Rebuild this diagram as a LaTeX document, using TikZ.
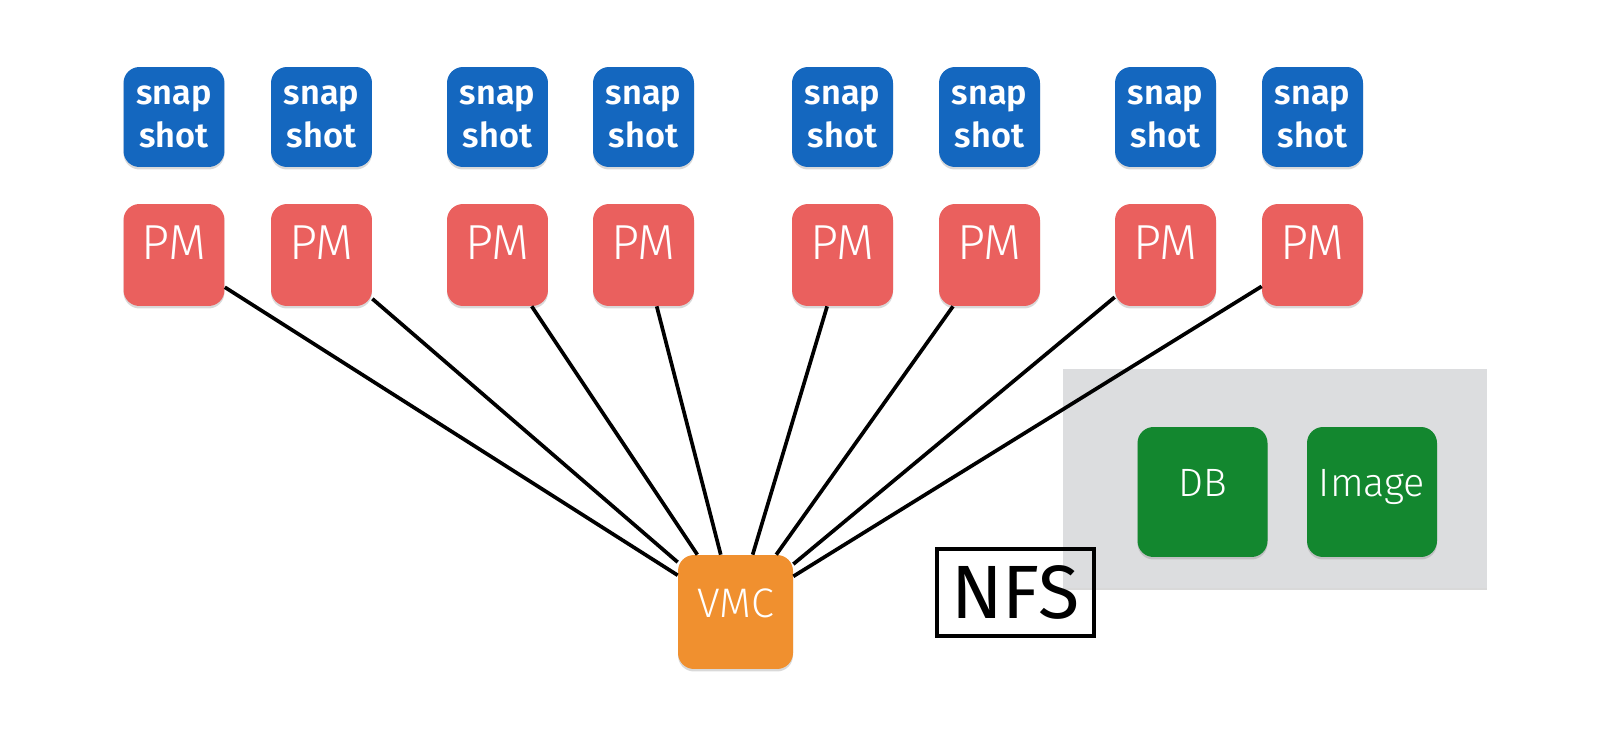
\documentclass[tikz,border=0pt]{standalone}
\usepackage{fontspec}
\setmainfont{Fira Sans}[UprightFont={* Light},BoldFont={* SemiBold}]
\newfontfamily\nfsfont{Fira Sans}
\usetikzlibrary{shadows}
\definecolor{snapblue}{HTML}{1467BF}
\definecolor{pmred}{HTML}{EA605E}
\definecolor{vmcorange}{HTML}{F0902F}
\definecolor{storegreen}{HTML}{13872F}
\definecolor{nfsgray}{HTML}{DCDDDF}
\tikzset{
  tile/.style={rounded corners=0.32cm, text=white, inner sep=0pt,
    drop shadow={shadow xshift=0pt, shadow yshift=-0.05cm, opacity=0.3}},
  snapbox/.style={tile, fill=snapblue, minimum width=2.02cm, minimum height=2cm,
    align=center, font=\bfseries\fontsize{19.5}{24}\selectfont},
  pmbox/.style={tile, fill=pmred, minimum width=2.02cm, minimum height=2.04cm,
    font=\fontsize{28}{32}\selectfont, text height=19.2pt, text depth=13.7pt},
  vmcbox/.style={tile, fill=vmcorange, minimum width=2.3cm, minimum height=2.28cm,
    font=\fontsize{23.5}{28}\selectfont, text height=16.2pt, text depth=10.2pt},
  storebox/.style={tile, fill=storegreen, minimum width=2.6cm, minimum height=2.6cm,
    font=\fontsize{22.5}{26}\selectfont, text height=15.5pt, text depth=10.2pt},
  storearea/.style={fill=nfsgray, minimum width=8.48cm, minimum height=4.38cm,
    drop shadow={shadow xshift=0pt, shadow yshift=-0.04cm, opacity=0.3}},
  nfslabel/.style={draw, line width=2pt, minimum width=3.14cm, minimum height=1.74cm,
    inner sep=0pt, font=\nfsfont\fontsize{43}{48}\selectfont, text height=29.6pt, text depth=0pt},
  link/.style={line width=2.1pt}
}
\begin{document}
\begin{tikzpicture}[x=0.02cm,y=-0.02cm]
\useasboundingbox (0,0) rectangle (1598,746);
\node[storearea] (nfsarea) at (1275,478.5) {};
\node[nfslabel] (nfs) at (1015.5,592.5) {NFS};

\node[snapbox] (snap1) at (174,117) {snap\\shot};
\node[snapbox] (snap2) at (321.5,117) {snap\\shot};
\node[snapbox] (snap3) at (497.5,117) {snap\\shot};
\node[snapbox] (snap4) at (643.5,117) {snap\\shot};
\node[snapbox] (snap5) at (842.5,117) {snap\\shot};
\node[snapbox] (snap6) at (989.5,117) {snap\\shot};
\node[snapbox] (snap7) at (1165.5,117) {snap\\shot};
\node[snapbox] (snap8) at (1312.5,117) {snap\\shot};

\node[pmbox] (pm1) at (174,255) {PM};
\node[pmbox] (pm2) at (321.5,255) {PM};
\node[pmbox] (pm3) at (497.5,255) {PM};
\node[pmbox] (pm4) at (643.5,255) {PM};
\node[pmbox] (pm5) at (842.5,255) {PM};
\node[pmbox] (pm6) at (989.5,255) {PM};
\node[pmbox] (pm7) at (1165.5,255) {PM};
\node[pmbox] (pm8) at (1312.5,255) {PM};

\node[vmcbox] (vmc) at (735.5,612) {VMC};
\node[storebox] (db) at (1202.5,492) {DB};
\node[storebox] (image) at (1372,492) {Image};

\draw[link]
    (pm1) -- (vmc)
    (pm2) -- (vmc)
    (pm3) -- (vmc)
    (pm4) -- (vmc)
    (pm5) -- (vmc)
    (pm6) -- (vmc)
    (pm7) -- (vmc)
    (pm8) -- (vmc);
\end{tikzpicture}
\end{document}
